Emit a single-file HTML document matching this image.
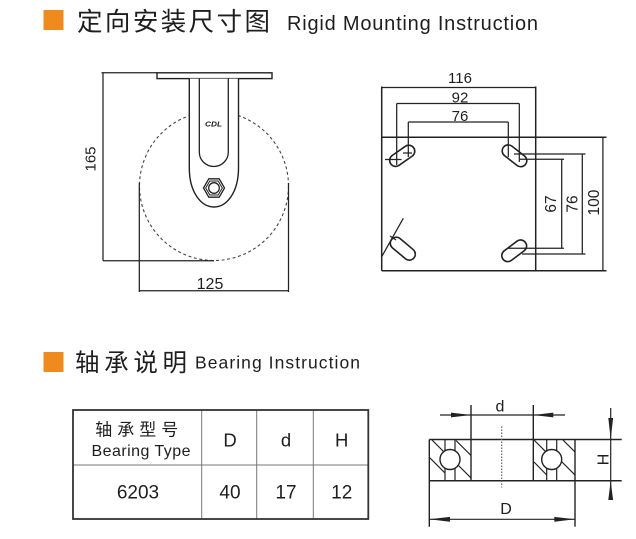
<!DOCTYPE html>
<html><head><meta charset="utf-8"><style>
html,body{margin:0;padding:0;background:#fff;}
svg{display:block;}
text{font-family:"Liberation Sans","Noto Sans CJK SC",sans-serif;fill:#1e1e1e;}
.cjk{font-family:"Noto Sans CJK SC","WenQuanYi Zen Hei",sans-serif;font-weight:normal;}
</style></head><body>
<svg width="636" height="539" viewBox="0 0 636 539" xmlns="http://www.w3.org/2000/svg">
<rect width="636" height="539" fill="#fff"/>

<!-- Title 1 -->
<rect x="43.5" y="10" width="20" height="20" fill="#ef8a1f"/>
<text class="cjk" x="77" y="30.5" font-size="25.5" textLength="193" lengthAdjust="spacing">定向安装尺寸图</text>
<text x="287" y="30" font-size="20" textLength="251" lengthAdjust="spacing">Rigid Mounting Instruction</text>

<!-- Caster side view -->
<g stroke="#222" fill="none" stroke-width="1.25">
  <circle cx="214" cy="186" r="74.5" stroke="#444" stroke-width="1.1" stroke-dasharray="3 2.6"/>
  <line x1="101.5" y1="72.8" x2="157" y2="72.8"/>
  <line x1="103" y1="72.8" x2="103" y2="260.7"/>
  <line x1="103" y1="260.7" x2="214" y2="260.7"/>
  <line x1="139.3" y1="183" x2="139.3" y2="292"/>
  <line x1="288.5" y1="183" x2="288.5" y2="292"/>
  <line x1="139.3" y1="290.8" x2="288.5" y2="290.8"/>
  <rect x="157" y="72.8" width="115" height="5.8" fill="#fff" stroke-width="1.4"/>
  <path d="M189.3,78.6 V168 C189.3,192 201,207 214,207 C227,207 238.5,192 238.5,168 V78.6" fill="#fff" stroke-width="1.4"/>
  <path d="M199.3,78.6 V152 A14.5,14.5 0 0 0 228.3,152 V78.6" stroke-width="1.3"/>
  <polygon points="224.5,188 219.2,197.2 208.8,197.2 203.5,188 208.8,178.8 219.2,178.8" stroke-width="1.3"/>
  <polygon points="222.3,188 218.2,195 209.8,195 205.7,188 209.8,181 218.2,181" stroke-width="1"/>
  <circle cx="214" cy="188" r="5.3" stroke-width="1.3"/>
</g>
<text x="205" y="126.5" font-size="7" font-weight="bold" font-style="italic" textLength="17" lengthAdjust="spacingAndGlyphs">CDL</text>
<text x="0" y="0" font-size="15" text-anchor="middle" transform="translate(95.5,159) rotate(-90)">165</text>
<text x="210" y="289" font-size="16" text-anchor="middle">125</text>

<!-- Mounting plate -->
<g stroke="#222" fill="none" stroke-width="1.25">
  <line x1="381.7" y1="87.5" x2="535.7" y2="87.5"/>
  <line x1="381.7" y1="86.5" x2="381.7" y2="270.7" stroke-width="1.5"/>
  <line x1="535.7" y1="86.5" x2="535.7" y2="270.7" stroke-width="1.5"/>
  <line x1="381.7" y1="137.3" x2="606.5" y2="137.3" stroke-width="1.5"/>
  <line x1="381.7" y1="270.7" x2="606.5" y2="270.7" stroke-width="1.5"/>
  <line x1="602.9" y1="137.3" x2="602.9" y2="270.7"/>
  <!-- 92 -->
  <line x1="396.7" y1="103.5" x2="519.3" y2="103.5"/>
  <line x1="396.7" y1="103.5" x2="396.7" y2="165"/>
  <line x1="519.3" y1="103.5" x2="519.3" y2="162"/>
  <!-- 76 -->
  <line x1="408.3" y1="122" x2="508.3" y2="122"/>
  <line x1="408.3" y1="122" x2="408.3" y2="157"/>
  <line x1="508.3" y1="122" x2="508.3" y2="157"/>
  <!-- crosshairs -->
  <line x1="385" y1="159.5" x2="401.5" y2="159.5"/>
  <line x1="403" y1="153" x2="412" y2="153"/>
  <!-- right dims -->
  <line x1="514" y1="154" x2="585.5" y2="154"/>
  <line x1="520" y1="159.3" x2="564" y2="159.3"/>
  <line x1="508" y1="248.3" x2="564" y2="248.3"/>
  <line x1="522" y1="254" x2="585.5" y2="254"/>
  <line x1="561.7" y1="159.3" x2="561.7" y2="248.3"/>
  <line x1="582.3" y1="154" x2="582.3" y2="254"/>
  <!-- slots -->
  <rect x="-14" y="-6" width="28" height="12" rx="6" transform="translate(402.2,155.8) rotate(-35)" stroke-width="1.6"/>
  <rect x="-14" y="-6" width="28" height="12" rx="6" transform="translate(514.5,155.8) rotate(38)" stroke-width="1.6"/>
  <rect x="-14" y="-6" width="28" height="12" rx="6" transform="translate(514.2,250.8) rotate(-37)" stroke-width="1.6"/>
  <rect x="-14.5" y="-6" width="29" height="12" rx="6" transform="translate(402.8,248.7) rotate(40)" stroke-width="1.6"/>
  <line x1="403.3" y1="218.3" x2="381.7" y2="256.7"/>
  <line x1="390" y1="236" x2="396" y2="240"/>
</g>
<text x="460" y="83" font-size="15" text-anchor="middle">116</text>
<text x="460" y="102.3" font-size="15" text-anchor="middle">92</text>
<text x="460" y="120.8" font-size="15" text-anchor="middle">76</text>
<text x="0" y="0" font-size="15.5" text-anchor="middle" transform="translate(556,204) rotate(-90)">67</text>
<text x="0" y="0" font-size="15.5" text-anchor="middle" transform="translate(577.5,204) rotate(-90)">76</text>
<text x="0" y="0" font-size="15.5" text-anchor="middle" transform="translate(599,202.5) rotate(-90)">100</text>

<!-- Title 2 -->
<rect x="43.5" y="352" width="20" height="20" fill="#ef8a1f"/>
<text class="cjk" x="75" y="371" font-size="24.5" textLength="112" lengthAdjust="spacing">轴承说明</text>
<text x="195" y="368.5" font-size="17.5" textLength="165" lengthAdjust="spacing">Bearing Instruction</text>

<!-- Table -->
<g stroke="#777" stroke-width="1">
  <line x1="73" y1="465" x2="368" y2="465"/>
  <line x1="201.7" y1="410" x2="201.7" y2="519"/>
  <line x1="256.7" y1="410" x2="256.7" y2="519"/>
  <line x1="313.3" y1="410" x2="313.3" y2="519"/>
</g>
<rect x="73" y="410" width="295.3" height="109" fill="none" stroke="#333" stroke-width="1.8"/>
<text class="cjk" x="136.7" y="435.5" font-size="17" text-anchor="middle" textLength="83" lengthAdjust="spacing">轴承型号</text>
<text x="141" y="456" font-size="16" text-anchor="middle" textLength="99" lengthAdjust="spacing">Bearing Type</text>
<text x="230" y="446.7" font-size="18.5" text-anchor="middle">D</text>
<text x="286" y="446.7" font-size="18.5" text-anchor="middle">d</text>
<text x="341.7" y="446.7" font-size="18.5" text-anchor="middle">H</text>
<text x="138" y="498.3" font-size="19" text-anchor="middle">6203</text>
<text x="230" y="498.3" font-size="19" text-anchor="middle">40</text>
<text x="286" y="498.3" font-size="19" text-anchor="middle">17</text>
<text x="341.7" y="498.3" font-size="19" text-anchor="middle">12</text>

<!-- Bearing drawing -->
<defs>
  <clipPath id="bl"><rect x="429.3" y="439.5" width="41.7" height="41.2"/></clipPath>
  <clipPath id="br"><rect x="533.3" y="439.5" width="41.7" height="41.2"/></clipPath>
</defs>
<g stroke="#222" fill="none" stroke-width="1.2">
  <g clip-path="url(#bl)">
    <line x1="432" y1="440" x2="445" y2="453"/>
    <line x1="429" y1="457" x2="445" y2="473"/>
    <line x1="456" y1="440.5" x2="471" y2="455.5"/>
    <line x1="456" y1="463" x2="471" y2="478"/>
  </g>
  <g clip-path="url(#br)">
    <line x1="534" y1="440" x2="546.7" y2="452.7"/>
    <line x1="534" y1="462" x2="546.7" y2="475"/>
    <line x1="563" y1="440" x2="575" y2="452"/>
    <line x1="557" y1="457" x2="575" y2="475"/>
  </g>
  <line x1="445" y1="439.5" x2="445" y2="480.7"/>
  <line x1="455" y1="439.5" x2="455" y2="480.7"/>
  <line x1="546.7" y1="439.5" x2="546.7" y2="480.7"/>
  <line x1="556.7" y1="439.5" x2="556.7" y2="480.7"/>
  <circle cx="450" cy="459.5" r="10" fill="#fff" stroke-width="1.4"/>
  <circle cx="551.7" cy="459.5" r="10" fill="#fff" stroke-width="1.4"/>
  <line x1="429.3" y1="439.5" x2="621.7" y2="439.5" stroke-width="1.5"/>
  <line x1="429.3" y1="480.7" x2="621.7" y2="480.7" stroke-width="1.5"/>
  <line x1="429.3" y1="439.5" x2="429.3" y2="526.7" stroke-width="1.4"/>
  <line x1="575" y1="439.5" x2="575" y2="526.7" stroke-width="1.4"/>
  <line x1="471" y1="405" x2="471" y2="480.7" stroke-width="1.4"/>
  <line x1="533.3" y1="405" x2="533.3" y2="480.7" stroke-width="1.4"/>
  <line x1="501.7" y1="426.5" x2="501.7" y2="487.5" stroke="#666" stroke-dasharray="1.5 1.5"/>
  <line x1="440" y1="415" x2="565" y2="415"/>
  <line x1="429.3" y1="519.3" x2="575" y2="519.3"/>
  <line x1="610.7" y1="408" x2="610.7" y2="500"/>
</g>
<g fill="#222">
  <polygon points="471,415 451,412.6 451,417.4"/>
  <polygon points="533.3,415 553.3,412.6 553.3,417.4"/>
  <polygon points="429.3,519.3 450,516.9 450,521.7"/>
  <polygon points="575,519.3 554.3,516.9 554.3,521.7"/>
  <polygon points="610.7,439.5 608.3,418 613.1,418"/>
  <polygon points="610.7,480.7 608.3,500 613.1,500"/>
</g>
<text x="500" y="411.5" font-size="16" text-anchor="middle">d</text>
<text x="506" y="514" font-size="16" text-anchor="middle">D</text>
<text x="0" y="0" font-size="16" text-anchor="middle" transform="translate(608.3,459.5) rotate(-90)">H</text>
</svg>
</body></html>
